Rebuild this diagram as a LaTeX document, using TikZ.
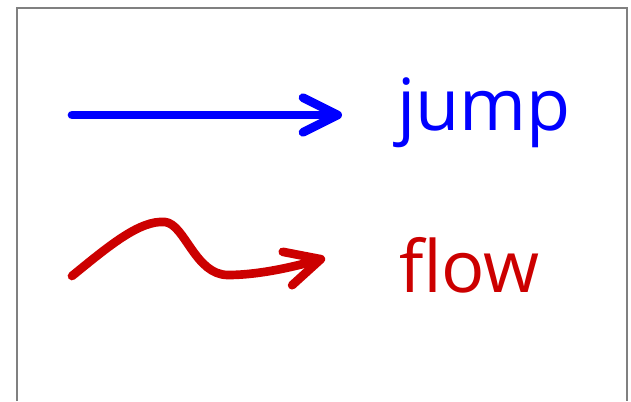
\documentclass[tikz,border=0pt]{standalone}
\usepackage{fontspec}
\setmainfont{Open Sans}
\usetikzlibrary{arrows.meta}
\definecolor{flowred}{RGB}{204,0,0}

\begin{document}
\begin{tikzpicture}[x=0.75pt,y=-0.75pt,
  word/.style={inner sep=0pt,anchor=base west,font=\fontsize{54}{62}\selectfont},
  tipped/.style={line width=6.5pt,line cap=round,line join=round,-{Straight Barb[length=26pt,width=26pt,round]}}]
      \useasboundingbox (0,0) rectangle (631,401);
      \draw[gray,line width=1.2pt] (17,401) -- (17,8) -- (627,8) -- (627,401);
      \coordinate (js) at (72,115);
      \coordinate (je) at (342,115);
      \coordinate (fs) at (72,276);
      \coordinate (fe) at (325,258);
      \node[word,text=blue](jump) at (397,130){jump};
      \node[word,text=flowred](flow) at (399,292){flow};
      \draw[tipped,blue] (js) -- (je);
      \draw[tipped,flowred] (fs) .. controls (110,245) and (140,220) .. (165,222)
        .. controls (185,224) and (195,275) .. (228,275)
        .. controls (262,275) and (300,265) .. (fe);
    \end{tikzpicture}
\end{document}
